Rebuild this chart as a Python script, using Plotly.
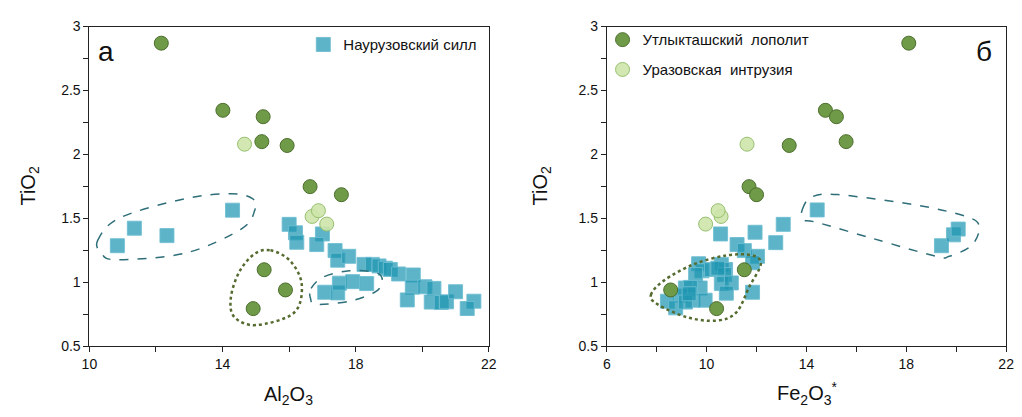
import plotly.graph_objects as go
import numpy as np

# ---------------- data ----------------
# Утлыкташский лополит (dark green)
tio2_ut = [2.87, 2.345, 2.295, 2.10, 2.07, 1.748, 1.685, 1.098, 0.94, 0.794]
al_ut = [12.16, 14.01, 15.22, 15.18, 15.94, 16.63, 17.57, 15.25, 15.89, 14.92]
fe_ut = [18.10, 14.76, 15.20, 15.59, 13.31, 11.70, 12.00, 11.51, 8.56, 10.40]

# Уразовская интрузия (light green)
tio2_ur = [2.08, 1.515, 1.56, 1.455]
al_ur = [14.66, 16.69, 16.88, 17.13]
fe_ur = [11.62, 10.58, 10.46, 9.96]

# Наурузовский силл (squares), panel а
al_na = [10.84, 11.35, 12.33, 14.30, 16.00, 16.19, 16.23, 17.00, 16.83, 17.38,
         17.46, 17.79, 17.07, 17.46, 17.51, 17.91, 18.33, 18.25, 18.50, 18.70,
         18.89, 19.04, 19.29, 19.73, 19.70, 20.08, 20.35, 19.55, 20.27, 20.57,
         20.73, 21.00, 21.55, 21.35]
tio2_na_a = [1.286, 1.423, 1.365, 1.564, 1.453, 1.387, 1.313, 1.378, 1.295, 1.248,
             1.173, 1.203, 0.922, 0.917, 0.993, 1.005, 0.990, 1.140, 1.140, 1.128,
             1.110, 1.100, 1.065, 1.057, 0.962, 0.965, 0.952, 0.862, 0.845, 0.842,
             0.847, 0.926, 0.852, 0.795]

# Наурузовский силл (squares), panel б
fe_na = [14.43, 19.41, 19.89, 20.08, 10.56, 11.94, 13.07, 12.77, 11.22, 11.51,
         12.04, 11.84, 11.84, 9.68, 9.81, 9.56, 10.20, 10.59, 10.76, 10.72,
         10.59, 10.99, 10.79, 9.74, 9.15, 9.35, 8.95, 9.45, 9.94, 8.43,
         8.76, 9.15, 9.30, 10.45]
tio2_na_b = [1.566, 1.286, 1.371, 1.416, 1.378, 1.391, 1.453, 1.310, 1.295, 1.248,
             1.203, 1.153, 0.922, 1.145, 1.090, 1.060, 1.100, 1.140, 1.100, 1.060,
             0.990, 0.995, 0.915, 0.955, 0.955, 0.960, 0.900, 0.860, 0.860, 0.852,
             0.800, 0.845, 0.910, 1.110]

# outline vertices (decorative contours)
dash_a1_x = [10.25, 10.91, 12.88, 14.26, 14.90, 14.97, 14.56, 12.88, 10.81, 10.36]
dash_a1_y = [1.328, 1.504, 1.654, 1.692, 1.654, 1.566, 1.416, 1.228, 1.177, 1.228]
dash_a2_x = [16.66, 17.02, 17.81, 18.60, 18.80, 18.60, 17.81, 16.82, 16.64]
dash_a2_y = [0.952, 1.040, 1.090, 1.077, 1.015, 0.927, 0.852, 0.827, 0.877]
dot_a_x = [15.44, 16.04, 16.38, 16.14, 15.00, 14.35, 14.25, 14.50, 14.95]
dot_a_y = [1.25, 1.165, 0.98, 0.76, 0.665, 0.73, 0.88, 1.08, 1.22]
dash_b_x = [13.83, 14.20, 15.25, 18.40, 20.37, 20.92, 20.63, 19.72, 19.19, 16.70, 14.46, 13.87]
dash_b_y = [1.566, 1.666, 1.686, 1.604, 1.516, 1.440, 1.290, 1.203, 1.203, 1.340, 1.466, 1.490]
dot_b_x = [7.77, 8.30, 9.48, 10.79, 11.84, 12.17, 11.71, 11.19, 10.40, 9.22, 8.04]
dot_b_y = [0.902, 1.015, 1.14, 1.21, 1.21, 1.14, 0.965, 0.764, 0.70, 0.726, 0.827]

# ticks
x_ticks_a = [10, 14, 18, 22]
x_text_a = ["10", "14", "18", "22"]
x_minor_a = [12, 16, 20]
x_ticks_b = [6, 10, 14, 18, 22]
x_text_b = ["6", "10", "14", "18", "22"]
x_minor_b = [8, 12, 16, 20]
y_ticks = [0.5, 1, 1.5, 2, 2.5, 3]
y_text = ["0.5", "1", "1.5", "2", "2.5", "3"]
y_minor = [0.75, 1.25, 1.75, 2.25, 2.75]

# ---------------- styles ----------------
FONT = "Liberation Sans, Arial, sans-serif"
sq_marker = dict(symbol="square", size=14, color="rgba(30,150,178,0.72)",
                 line=dict(color="rgba(110,190,210,0.9)", width=1))
ut_marker = dict(symbol="circle", size=14, color="#6f9b48",
                 line=dict(color="#4d6e2e", width=1))
ur_marker = dict(symbol="circle", size=14, color="rgba(205,228,170,0.9)",
                 line=dict(color="#97c070", width=1))


def closed_path(xs, ys):
    """Smooth closed Catmull-Rom outline -> SVG cubic path."""
    n = len(xs)
    p = np.array(list(zip(xs, ys)), dtype=float)
    d = f"M {p[0][0]},{p[0][1]}"
    for i in range(n):
        p0, p1, p2, p3 = p[(i - 1) % n], p[i], p[(i + 1) % n], p[(i + 2) % n]
        c1 = p1 + (p2 - p0) / 6.0
        c2 = p2 - (p3 - p1) / 6.0
        d += f" C {c1[0]},{c1[1]} {c2[0]},{c2[1]} {p2[0]},{p2[1]}"
    return d + " Z"


fig = go.Figure()

# panel а
fig.add_trace(go.Scatter(x=al_na, y=tio2_na_a, mode="markers", marker=sq_marker,
                         name="Наурузовский силл", legend="legend",
                         xaxis="x", yaxis="y"))
fig.add_trace(go.Scatter(x=al_ut, y=tio2_ut, mode="markers", marker=ut_marker,
                         showlegend=False, xaxis="x", yaxis="y"))
fig.add_trace(go.Scatter(x=al_ur, y=tio2_ur, mode="markers", marker=ur_marker,
                         showlegend=False, xaxis="x", yaxis="y"))
# panel б
fig.add_trace(go.Scatter(x=fe_na, y=tio2_na_b, mode="markers", marker=sq_marker,
                         showlegend=False, xaxis="x2", yaxis="y2"))
fig.add_trace(go.Scatter(x=fe_ut, y=tio2_ut, mode="markers", marker=ut_marker,
                         name="Утлыкташский  лополит", legend="legend2",
                         xaxis="x2", yaxis="y2"))
fig.add_trace(go.Scatter(x=fe_ur, y=tio2_ur, mode="markers", marker=ur_marker,
                         name="Уразовская  интрузия", legend="legend3",
                         xaxis="x2", yaxis="y2"))

shapes = []
for xs, ys, xr, yr, col, dash, w in [
    (dash_a1_x, dash_a1_y, "x", "y", "#2e6e78", "dash", 1.5),
    (dash_a2_x, dash_a2_y, "x", "y", "#2e6e78", "dash", 1.5),
    (dot_a_x, dot_a_y, "x", "y", "#556b2f", "dot", 2.5),
    (dash_b_x, dash_b_y, "x2", "y2", "#2e6e78", "dash", 1.5),
    (dot_b_x, dot_b_y, "x2", "y2", "#556b2f", "dot", 2.5),
]:
    shapes.append(dict(type="path", path=closed_path(xs, ys), xref=xr, yref=yr,
                       line=dict(color=col, width=w, dash=dash), layer="above"))

W, H = 1022, 417
axis_common = dict(showline=True, linecolor="#222", linewidth=1, mirror=True,
                   ticks="outside", ticklen=5, tickcolor="#222", showgrid=False,
                   zeroline=False, tickfont=dict(family=FONT, size=14, color="#111"))


def minor(vals):
    return dict(tickvals=vals, ticks="outside", ticklen=5, tickcolor="#222",
                showgrid=False)


def ann(text, px, py, size, angle=0):
    return dict(text=text, x=px / W, y=1 - py / H, xref="paper", yref="paper",
                xanchor="center", yanchor="middle", showarrow=False,
                textangle=angle, font=dict(family=FONT, size=size, color="#111"))


dom_y = [1 - 351.7 / H, 1 - 19.3 / H]
leg_font = dict(family=FONT, size=15, color="#111")
layout = dict(
    width=W, height=H, margin=dict(l=0, r=0, t=0, b=0),
    paper_bgcolor="white", plot_bgcolor="white",
    font=dict(family=FONT, color="#111"),
    xaxis=dict(domain=[82.7 / W, 488.5 / W], range=[10, 22], tickvals=x_ticks_a,
               ticktext=x_text_a, minor=minor(x_minor_a), anchor="y", **axis_common),
    yaxis=dict(domain=dom_y, range=[0.5, 3], tickvals=y_ticks, ticktext=y_text,
               minor=minor(y_minor), anchor="x", **axis_common),
    xaxis2=dict(domain=[608.3 / W, 1014 / W], range=[6, 22], tickvals=x_ticks_b,
                ticktext=x_text_b, minor=minor(x_minor_b), anchor="y2", **axis_common),
    yaxis2=dict(domain=dom_y, range=[0.5, 3], tickvals=y_ticks, ticktext=y_text,
                minor=minor(y_minor), anchor="x2", **axis_common),
    shapes=shapes,
    legend=dict(x=300 / W, y=1 - 21 / H, xanchor="left", yanchor="top",
                bgcolor="rgba(0,0,0,0)", font=leg_font),
    legend2=dict(x=604 / W, y=1 - 16 / H, xanchor="left", yanchor="top",
                 bgcolor="rgba(0,0,0,0)", font=leg_font),
    legend3=dict(x=604 / W, y=1 - 47 / H, xanchor="left", yanchor="top",
                 bgcolor="rgba(0,0,0,0)", font=leg_font),
    annotations=[
        ann("а", 100, 45, 28),
        ann("б", 992, 45, 28),
        ann("TiO<sub>2</sub>", 22, 185, 20, -90),
        ann("TiO<sub>2</sub>", 542, 185, 20, -90),
        ann("Al<sub>2</sub>O<sub>3</sub>", 285, 403, 20),
        ann("Fe<sub>2</sub>O<sub>3</sub><sup>*</sup>", 812, 401, 20),
    ],
)
fig.update_layout(**layout)
fig.write_html("out.html")
